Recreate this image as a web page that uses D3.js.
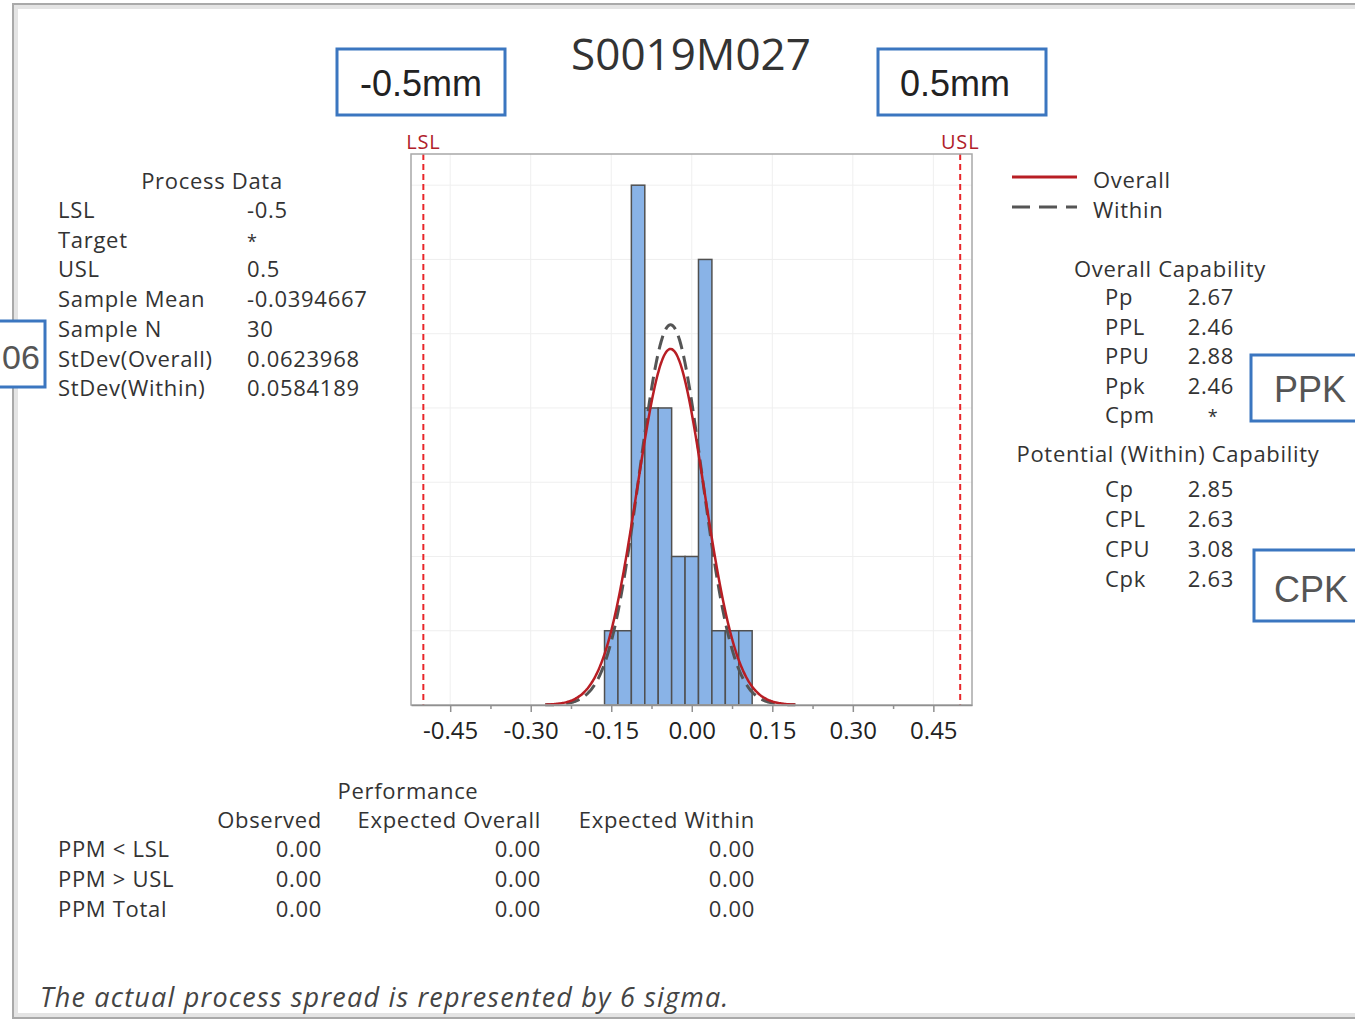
<!DOCTYPE html>
<html>
<head>
<meta charset="utf-8">
<script src="https://cdn.jsdelivr.net/npm/d3@7"></script>
<style>
  body { margin: 0; background: #fff; }
  text { font-family: "Open Sans", "Noto Sans", sans-serif; fill: #333; }
  .stat { font-size: 22px; letter-spacing: 0.7px; }
</style>
</head>
<body>
<div id="chart"></div>
<script>
// histogram data (bin midpoints, counts)
var binMids = [-0.15, -0.125, -0.1, -0.075, -0.05, -0.025, 0, 0.025, 0.05, 0.075, 0.1];
var binCounts = [1, 1, 7, 4, 4, 2, 2, 6, 1, 1, 1];
var binWidth = 0.025;
var sampleN = 30;

var xTicks = [-0.45, -0.30, -0.15, 0, 0.15, 0.30, 0.45];
var xMinorTicks = [-0.375, -0.225, -0.075, 0.075, 0.225, 0.375];
var yGrid = [1, 2, 3, 4, 5, 6, 7];

var specNames = ['LSL', 'USL'];
var specValues = [-0.5, 0.5];

// fitted normal curves
var fitNames = ['Overall', 'Within'];
var fitMeans = [-0.0394667, -0.0394667];
var fitSigmas = [0.0623968, 0.0584189];
var fitRange = [-0.273, 0.194];

var processLabels = ['LSL', 'Target', 'USL', 'Sample Mean', 'Sample N', 'StDev(Overall)', 'StDev(Within)'];
var processValues = ['-0.5', '*', '0.5', '-0.0394667', '30', '0.0623968', '0.0584189'];

var overallLabels = ['Pp', 'PPL', 'PPU', 'Ppk', 'Cpm'];
var overallValues = ['2.67', '2.46', '2.88', '2.46', '*'];
var potentialLabels = ['Cp', 'CPL', 'CPU', 'Cpk'];
var potentialValues = ['2.85', '2.63', '3.08', '2.63'];

var perfColumns = ['Observed', 'Expected Overall', 'Expected Within'];
var perfRows = ['PPM < LSL', 'PPM > USL', 'PPM Total'];
var perfValues = [['0.00', '0.00', '0.00'], ['0.00', '0.00', '0.00'], ['0.00', '0.00', '0.00']];

var callouts = ['-0.5mm', '0.5mm', '06', 'PPK', 'CPK'];

var width = 1355, height = 1020;
var svg = d3.select('#chart').append('svg')
    .attr('width', width)
    .attr('height', height);

// outer picture frame with a bit of shadow
var frame = svg.append('g').attr('class', 'frame');
frame.append('rect').attr('x', 16).attr('y', 7).attr('width', 1400).attr('height', 1008)
    .attr('fill', 'none').attr('stroke', '#e4e4e4').attr('stroke-width', 4);
frame.append('rect').attr('x', 13).attr('y', 4).attr('width', 1400).attr('height', 1014)
    .attr('fill', 'none').attr('stroke', '#a9a9a9').attr('stroke-width', 2);

// title
svg.append('text')
    .attr('x', 691).attr('y', 70)
    .attr('text-anchor', 'middle')
    .style('font-size', '44px')
    .text('S0019M027');

// plot area
var x = d3.scaleLinear().domain([-0.523, 0.522]).range([411, 972]);
var y = d3.scaleLinear().domain([0, 7.42]).range([705, 154]);

var plot = svg.append('g').attr('class', 'plot');

plot.append('g').attr('class', 'grid')
    .selectAll('line.v').data(xTicks).enter()
    .append('line')
    .attr('x1', function(d) { return x(d); }).attr('x2', function(d) { return x(d); })
    .attr('y1', y.range()[1]).attr('y2', y.range()[0])
    .attr('stroke', '#efefef').attr('stroke-width', 1);
plot.select('g.grid')
    .selectAll('line.h').data(yGrid).enter()
    .append('line')
    .attr('x1', x.range()[0]).attr('x2', x.range()[1])
    .attr('y1', function(d) { return y(d); }).attr('y2', function(d) { return y(d); })
    .attr('stroke', '#efefef').attr('stroke-width', 1);

// bars
plot.append('g').attr('class', 'bars')
    .selectAll('rect').data(binMids).enter()
    .append('rect')
    .attr('x', function(d) { return x(d - binWidth / 2); })
    .attr('width', function(d) { return x(d + binWidth / 2) - x(d - binWidth / 2); })
    .attr('y', function(d, i) { return y(binCounts[i]); })
    .attr('height', function(d, i) { return y(0) - y(binCounts[i]); })
    .attr('fill', '#89b3e7')
    .attr('stroke', '#505050')
    .attr('stroke-width', 1.5);

// normal curves scaled to counts
var line = d3.line()
    .x(function(d) { return x(d[0]); })
    .y(function(d) { return y(d[1]); })
    .curve(d3.curveBasis);

var curveStyle = [
  { stroke: '#555', width: 3, dash: '14,7' },
  { stroke: '#b81e24', width: 2.5, dash: null }
];
// draw Within first, Overall on top
[1, 0].forEach(function(k, j) {
  var mu = fitMeans[k], sd = fitSigmas[k];
  var pts = d3.range(fitRange[0], fitRange[1] + 0.0001, 0.002).map(function(v) {
    var z = (v - mu) / sd;
    return [v, sampleN * binWidth * Math.exp(-0.5 * z * z) / (sd * Math.sqrt(2 * Math.PI))];
  });
  plot.append('path')
      .datum(pts)
      .attr('d', line)
      .attr('fill', 'none')
      .attr('stroke', curveStyle[j].stroke)
      .attr('stroke-width', curveStyle[j].width)
      .attr('stroke-dasharray', curveStyle[j].dash);
});

// spec limit lines
specValues.forEach(function(v, i) {
  plot.append('line')
      .attr('x1', x(v)).attr('x2', x(v))
      .attr('y1', y.range()[1]).attr('y2', y.range()[0])
      .attr('stroke', '#e8262a').attr('stroke-width', 2)
      .attr('stroke-dasharray', '6,4');
  plot.append('text')
      .attr('x', x(v)).attr('y', 149)
      .attr('text-anchor', 'middle')
      .style('font-size', '20px')
      .style('letter-spacing', '0.8px')
      .style('fill', '#b0202a')
      .text(specNames[i]);
});

// box around the plot
plot.append('rect')
    .attr('x', x.range()[0]).attr('y', y.range()[1])
    .attr('width', x.range()[1] - x.range()[0])
    .attr('height', y.range()[0] - y.range()[1])
    .attr('fill', 'none').attr('stroke', '#a8a8a8').attr('stroke-width', 1.5);

// x axis
var axis = plot.append('g')
    .attr('transform', 'translate(0,' + y(0) + ')')
    .call(d3.axisBottom(x).tickValues(xTicks).tickSize(7).tickSizeOuter(0)
      .tickFormat(function(d) { return d.toFixed(2); }));
var minor = plot.append('g')
    .attr('transform', 'translate(0,' + y(0) + ')')
    .call(d3.axisBottom(x).tickValues(xMinorTicks).tickSize(4).tickSizeOuter(0).tickFormat(''));
minor.select('.domain').remove();
axis.select('.domain').attr('stroke', '#909090').attr('stroke-width', 1.5);
plot.selectAll('.tick line').attr('stroke', '#909090').attr('stroke-width', 1.5);
axis.selectAll('.tick text')
    .attr('y', 17)
    .style('font-size', '24px')
    .style('font-family', '"Open Sans", sans-serif')
    .style('fill', '#222');

// legend
var legend = svg.append('g').attr('class', 'legend');
var legY = [177, 207];
fitNames.forEach(function(n, i) {
  legend.append('line')
      .attr('x1', 1012).attr('x2', 1077)
      .attr('y1', legY[i]).attr('y2', legY[i])
      .attr('stroke', i === 0 ? '#b81e24' : '#555')
      .attr('stroke-width', 3)
      .attr('stroke-dasharray', i === 0 ? null : '18,9');
  legend.append('text')
      .attr('class', 'stat')
      .attr('x', 1093).attr('y', legY[i] + 11)
      .text(n);
});

// helper for label/value tables
var drawTable = function(g, labels, values, lx, vx, y0, dy, anchor) {
  labels.forEach(function(l, i) {
    g.append('text').attr('class', 'stat').attr('x', lx).attr('y', y0 + i * dy).text(l);
    var star = values[i] === '*';
    g.append('text').attr('class', 'stat')
        .attr('x', star && anchor === 'end' ? vx - 21 : vx)
        .attr('y', y0 + i * dy)
        .attr('text-anchor', star && anchor === 'end' ? 'middle' : anchor)
        .style('font-size', star ? '18px' : null)
        .text(values[i]);
  });
};

// process data
var proc = svg.append('g');
proc.append('text').attr('class', 'stat').attr('x', 212).attr('y', 189)
    .attr('text-anchor', 'middle').text('Process Data');
drawTable(proc, processLabels, processValues, 58, 247, 218, 29.7, 'start');

// capability
var cap = svg.append('g');
cap.append('text').attr('class', 'stat').attr('x', 1170).attr('y', 277)
    .attr('text-anchor', 'middle').text('Overall Capability');
drawTable(cap, overallLabels, overallValues, 1105, 1234, 305, 29.5, 'end');
cap.append('text').attr('class', 'stat').attr('x', 1168).attr('y', 462)
    .attr('text-anchor', 'middle').text('Potential (Within) Capability');
drawTable(cap, potentialLabels, potentialValues, 1105, 1234, 497, 30, 'end');

// performance
var perf = svg.append('g');
var colX = [322, 541, 755];
perf.append('text').attr('class', 'stat').attr('x', 408).attr('y', 799)
    .attr('text-anchor', 'middle').text('Performance');
perfColumns.forEach(function(c, i) {
  perf.append('text').attr('class', 'stat').attr('x', colX[i]).attr('y', 828)
      .attr('text-anchor', 'end').text(c);
});
perfRows.forEach(function(r, i) {
  var yy = 857 + i * 30;
  perf.append('text').attr('class', 'stat').attr('x', 58).attr('y', yy).text(r);
  perfValues[i].forEach(function(v, j) {
    perf.append('text').attr('class', 'stat').attr('x', colX[j]).attr('y', yy)
        .attr('text-anchor', 'end').text(v);
  });
});

svg.append('text')
    .attr('x', 40).attr('y', 1007)
    .style('font-size', '27px')
    .style('font-style', 'italic')
    .style('letter-spacing', '1.2px')
    .style('fill', '#444')
    .text('The actual process spread is represented by 6 sigma.');

// blue callout boxes pasted on top
var boxes = [
  { x: 337, y: 49, w: 168, h: 66, tx: 421, ty: 96, anchor: 'middle', col: '#222', fs: 36 },
  { x: 878, y: 49, w: 168, h: 66, tx: 955, ty: 96, anchor: 'middle', col: '#222', fs: 36 },
  { x: -60, y: 321, w: 105, h: 66, tx: 2, ty: 369, anchor: 'start', col: '#555', fs: 34 },
  { x: 1251, y: 355, w: 130, h: 66, tx: 1274, ty: 402, anchor: 'start', col: '#555', fs: 36 },
  { x: 1254, y: 550, w: 130, h: 71, tx: 1274, ty: 602, anchor: 'start', col: '#555', fs: 36 }
];
var cg = svg.append('g').attr('class', 'callouts');
callouts.forEach(function(t, i) {
  var b = boxes[i];
  cg.append('rect').attr('x', b.x).attr('y', b.y).attr('width', b.w).attr('height', b.h)
      .attr('fill', '#fff').attr('stroke', '#3b76c0').attr('stroke-width', 3);
  cg.append('text').attr('x', b.tx).attr('y', b.ty).attr('text-anchor', b.anchor)
      .style('font-family', '"Liberation Sans", Arial, sans-serif')
      .style('font-size', b.fs + 'px')
      .style('fill', b.col)
      .text(t);
});
</script>
</body>
</html>
